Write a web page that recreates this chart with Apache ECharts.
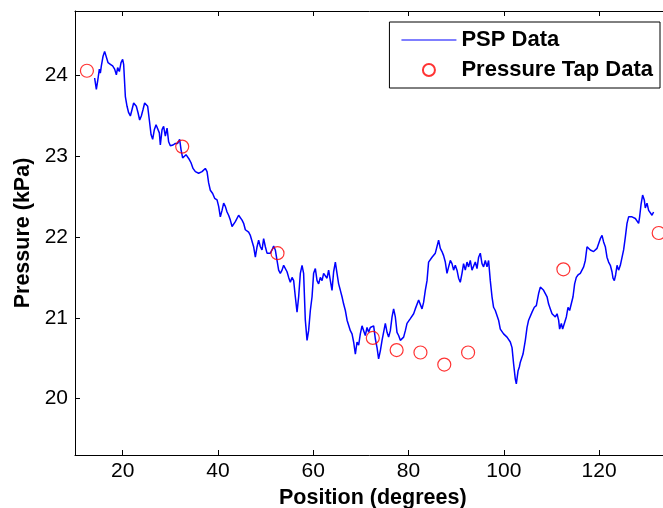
<!DOCTYPE html>
<html>
<head>
<meta charset="utf-8">
<script src="https://cdn.jsdelivr.net/npm/echarts@6/dist/echarts.min.js"></script>
<style>
html,body{margin:0;padding:0;background:#fff;}
#chart{width:663px;height:508px;}
</style>
</head>
<body>
<div id="chart"></div>
<script>
// ---- data ----
var pspPosition = [
14.12,14.48,14.75,15.11,15.32,15.53,15.89,16.22,16.52,16.94,17.42,17.90,18.32,18.68,18.95,19.31,19.66,20.00,20.21,20.57,
20.92,21.26,21.62,21.97,22.31,22.66,22.87,23.23,23.57,23.92,24.28,24.62,24.97,25.25,25.60,25.96,26.30,26.65,27.01,27.35,
27.70,27.91,28.27,28.60,28.96,29.32,29.65,30.01,30.58,31.06,31.54,31.96,32.26,32.59,32.95,33.30,33.64,34.00,34.35,34.77,
35.26,35.95,36.66,37.35,37.71,38.05,38.40,38.89,39.31,39.81,40.15,40.50,40.86,41.20,41.55,41.91,42.24,42.60,42.96,43.29,
43.65,44.01,44.34,44.70,45.06,45.39,45.75,46.11,46.44,46.80,47.16,47.49,47.85,48.21,48.54,48.90,49.25,49.59,49.95,50.30,
50.64,51.00,51.35,51.69,52.04,52.40,52.74,53.09,53.45,53.79,54.14,54.50,54.84,55.19,55.55,55.89,56.24,56.60,56.94,57.29,
57.65,57.98,58.34,58.70,59.03,59.39,59.75,60.08,60.44,60.80,61.13,61.49,61.85,62.18,62.54,62.89,63.23,63.59,63.94,64.28,
64.64,64.99,65.33,65.69,66.04,66.38,66.74,67.10,67.43,67.79,68.14,68.48,68.84,69.19,69.53,69.88,70.24,70.58,70.93,71.29,
71.63,71.98,72.34,72.68,73.03,73.39,73.72,74.08,74.44,74.77,75.13,75.49,75.82,76.18,76.54,76.87,77.23,77.58,77.92,78.28,
78.63,78.97,79.33,79.68,80.02,80.38,80.73,81.07,81.42,81.78,82.12,82.47,82.83,83.16,83.52,83.88,84.21,84.57,84.93,85.26,
85.62,85.98,86.31,86.67,87.02,87.36,87.72,88.07,88.41,88.77,89.12,89.46,89.81,90.17,90.51,90.86,91.22,91.55,91.91,92.27,
92.60,92.96,93.32,93.65,94.01,94.37,94.71,95.06,95.42,95.75,96.11,96.47,96.80,97.16,97.52,97.85,98.21,98.57,98.90,99.26,
99.62,99.95,100.31,100.67,101.00,101.36,101.72,102.05,102.41,102.62,102.98,103.25,103.46,104.03,104.51,104.87,105.20,105.92,106.40,106.82,
107.30,107.66,108.02,108.35,108.71,109.07,109.40,109.76,110.12,110.45,110.81,111.17,111.50,111.71,112.07,112.34,112.70,113.12,113.47,113.81,
114.16,114.52,114.86,115.21,115.57,116.05,116.41,116.75,117.10,117.46,117.79,118.15,118.51,118.84,119.20,119.56,119.89,120.25,120.61,120.94,
121.30,121.65,121.99,122.35,122.70,122.91,123.19,123.46,123.76,124.09,124.45,124.80,125.14,125.50,125.85,126.19,126.55,126.90,127.24,127.60,
127.95,128.29,128.50,128.79,129.13,129.48,129.69,130.05,130.39,130.74,131.10,131.43
];
var pspPressure = [
23.97,23.83,23.93,24.08,24.03,24.12,24.24,24.30,24.28,24.16,24.14,24.12,24.08,24.01,24.10,24.05,24.16,24.20,24.14,23.74,
23.62,23.54,23.50,23.58,23.66,23.68,23.62,23.54,23.45,23.50,23.58,23.66,23.68,23.62,23.45,23.27,23.21,23.33,23.39,23.41,
23.29,23.14,23.33,23.37,23.25,23.35,23.18,23.13,23.14,23.16,23.16,23.21,23.08,22.98,22.96,23.02,23.04,22.96,22.92,22.85,
22.81,22.79,22.81,22.85,22.81,22.67,22.58,22.54,22.48,22.46,22.38,22.25,22.33,22.42,22.38,22.31,22.27,22.21,22.13,22.13,
22.19,22.21,22.27,22.25,22.21,22.17,22.09,22.11,22.06,22.02,22.00,21.88,21.75,21.88,21.96,21.88,21.84,21.98,21.88,21.80,
21.82,21.80,21.84,21.89,21.84,21.71,21.59,21.55,21.59,21.65,21.63,21.57,21.50,21.44,21.50,21.46,21.26,21.07,21.26,21.55,
21.65,21.55,20.97,20.72,20.84,21.09,21.26,21.55,21.61,21.46,21.42,21.50,21.46,21.55,21.53,21.49,21.59,21.46,21.34,21.57,
21.69,21.55,21.42,21.34,21.26,21.17,21.09,20.97,20.95,20.84,20.80,20.70,20.55,20.70,20.66,20.80,20.90,20.84,20.78,20.88,
20.82,20.88,20.88,20.90,20.74,20.63,20.49,20.59,20.72,20.70,20.93,20.82,20.76,20.84,21.01,21.11,21.01,20.82,20.78,20.72,
20.70,20.76,20.84,20.93,20.95,20.99,21.01,21.05,21.11,21.13,21.22,21.24,21.11,21.19,21.34,21.46,21.69,21.71,21.75,21.77,
21.80,21.82,21.96,21.86,21.82,21.77,21.69,21.55,21.63,21.71,21.67,21.59,21.65,21.59,21.49,21.44,21.55,21.67,21.59,21.69,
21.63,21.71,21.59,21.57,21.69,21.61,21.75,21.80,21.67,21.63,21.71,21.63,21.71,21.46,21.26,21.13,21.09,21.07,20.97,20.86,
20.84,20.80,20.78,20.76,20.74,20.70,20.63,20.43,20.24,20.18,20.34,20.39,20.45,20.55,20.72,20.88,20.97,21.07,21.13,21.15,
21.30,21.38,21.36,21.34,21.30,21.26,21.17,21.11,21.05,21.03,21.01,21.05,20.97,20.86,20.93,20.86,20.88,21.01,21.13,21.09,
21.11,21.26,21.42,21.50,21.53,21.55,21.57,21.63,21.71,21.88,21.88,21.84,21.86,21.82,21.84,21.86,21.88,21.98,22.02,21.94,
21.88,21.75,21.69,21.65,21.57,21.49,21.46,21.53,21.65,21.59,21.65,21.67,21.84,22.00,22.17,22.25,22.27,22.25,22.25,22.23,
22.23,22.17,22.25,22.40,22.52,22.46,22.36,22.42,22.33,22.31,22.27,22.31
];
var tapPosition = [12.5, 32.5, 52.5, 72.5, 77.5, 82.5, 87.5, 92.5, 112.5, 132.5];
var tapPressure = [24.06, 23.12, 21.80, 20.75, 20.60, 20.57, 20.42, 20.57, 21.60, 22.05];
var xTicks = [20, 40, 60, 80, 100, 120];
var yTicks = [20, 21, 22, 23, 24];
var xTitle = 'Position (degrees)';
var yTitle = 'Pressure (kPa)';
var seriesNames = ['PSP Data', 'Pressure Tap Data'];

// ---- chart ----
var FONT = "'Liberation Sans', Arial, Helvetica, sans-serif";
var pspData = pspPosition.map(function (x, i) { return [x, pspPressure[i]]; });
var tapData = tapPosition.map(function (x, i) { return [x, tapPressure[i]]; });

function axisBase(extra) {
  var a = {
    type: 'value',
    axisLine: { show: true, onZero: false, lineStyle: { color: '#000', width: 1 } },
    splitLine: { show: false },
    axisTick: { show: true, inside: true, length: 5, lineStyle: { color: '#000', width: 1 } }
  };
  for (var k in extra) a[k] = extra[k];
  return a;
}

var chart = echarts.init(document.getElementById('chart'), null, { renderer: 'canvas' });
chart.setOption({
  animation: false,
  backgroundColor: '#fff',
  grid: { left: 75, top: 11, width: 595.6, height: 444, containLabel: false, outerBoundsMode: 'none' },
  xAxis: [
    axisBase({
      min: 10, max: 135, position: 'bottom',
      axisTick: { show: true, inside: true, length: 5, customValues: xTicks, lineStyle: { color: '#000', width: 1 } },
      axisLabel: { show: true, customValues: xTicks, margin: 6, fontSize: 21, color: '#000', fontFamily: FONT },
      name: xTitle, nameLocation: 'middle', nameGap: 30,
      nameTextStyle: { fontSize: 21.5, fontWeight: 'bold', color: '#000', fontFamily: FONT }
    }),
    axisBase({
      min: 10, max: 135, position: 'top',
      axisTick: { show: true, inside: true, length: 5, customValues: xTicks, lineStyle: { color: '#000', width: 1 } },
      axisLabel: { show: false }
    })
  ],
  yAxis: [
    axisBase({
      min: 19.3, max: 24.8, position: 'left',
      axisTick: { show: true, inside: true, length: 5, customValues: yTicks, lineStyle: { color: '#000', width: 1 } },
      axisLabel: { show: true, customValues: yTicks, margin: 7, fontSize: 21, color: '#000', fontFamily: FONT },
      name: yTitle, nameLocation: 'middle', nameGap: 40,
      nameTextStyle: { fontSize: 21.5, fontWeight: 'bold', color: '#000', fontFamily: FONT }
    }),
    axisBase({
      min: 19.3, max: 24.8, position: 'right',
      axisTick: { show: true, inside: true, length: 5, customValues: yTicks, lineStyle: { color: '#000', width: 1 } },
      axisLabel: { show: false }
    })
  ],
  legend: {
    orient: 'vertical',
    right: 3, top: 22,
    padding: [7, 7, 7, 12],
    borderColor: '#000', borderWidth: 1, backgroundColor: '#fff',
    itemWidth: 55, itemHeight: 12, itemGap: 8,
    textStyle: { fontSize: 22, fontWeight: 'bold', color: '#000', fontFamily: FONT, lineHeight: 22 },
    data: [
      { name: seriesNames[0], icon: 'path://M0,0H110V2.4H0Z', itemStyle: { color: '#0000ff' } },
      { name: seriesNames[1], icon: 'circle' }
    ]
  },
  series: [
    {
      name: seriesNames[0], type: 'line', data: pspData,
      xAxisIndex: 0, yAxisIndex: 0,
      showSymbol: false, symbol: 'none',
      lineStyle: { color: '#0000ff', width: 1.5 },
      itemStyle: { color: '#0000ff' },
      z: 2
    },
    {
      name: seriesNames[1], type: 'scatter', data: tapData,
      xAxisIndex: 0, yAxisIndex: 0,
      symbol: 'circle', symbolSize: 13,
      itemStyle: { color: 'rgba(255,255,255,0)', borderColor: '#ff0000', borderWidth: 1.2 },
      z: 3
    }
  ]
});
</script>
</body>
</html>
